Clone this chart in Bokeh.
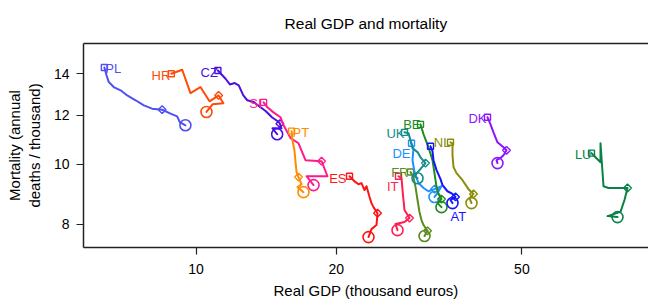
from bokeh.plotting import figure
from bokeh.models import FixedTicker, PrintfTickFormatter, LogAxis, Label
from bokeh.embed import file_html
from bokeh.resources import INLINE
import math

# ---------------- data ----------------
countries = ["PL", "HR", "CZ", "SI", "PT", "ES", "IT", "FR", "DE", "UK", "BE", "AT", "NL", "DK", "LU"]

pl_gdp = [6.36, 6.43, 6.50, 6.66, 6.89, 7.12, 7.42, 7.73, 8.05, 8.46, 8.82, 9.11, 9.23, 9.49]
pl_mort = [14.34, 13.92, 13.58, 13.33, 13.17, 12.92, 12.69, 12.45, 12.30, 12.25, 12.07, 11.95, 11.70, 11.56]

hr_gdp = [8.85, 9.34, 9.73, 10.22, 10.69, 11.18, 11.45, 10.85, 10.53]
hr_mort = [14.01, 14.22, 13.03, 13.33, 12.64, 12.92, 12.55, 12.50, 12.15]

cz_gdp = [11.14, 11.57, 11.82, 12.11, 12.35, 12.63, 12.88, 13.30, 13.64, 14.10, 14.57, 15.05, 15.13, 15.25, 14.59, 14.93]
cz_mort = [14.18, 13.75, 13.46, 13.53, 13.41, 12.92, 12.69, 12.61, 12.42, 12.19, 11.90, 11.70, 11.63, 11.43, 11.43, 11.18]

si_gdp = [13.96, 14.23, 14.66, 15.18, 15.41, 15.95, 16.59, 17.17, 18.59, 19.14, 17.26, 17.87]
si_mort = [12.59, 12.36, 12.13, 11.91, 11.56, 11.02, 10.81, 10.15, 10.11, 9.56, 9.56, 9.25]

pt_gdp = [16.03, 16.10, 16.26, 16.35, 16.43, 16.59, 16.84, 16.51, 17.00]
pt_mort = [11.31, 10.93, 10.53, 10.07, 9.71, 9.53, 9.28, 9.18, 9.01]

es_gdp = [21.34, 21.98, 22.31, 22.64, 22.98, 23.21, 23.56, 23.79, 24.02, 24.51, 24.38, 23.79, 23.44]
es_mort = [9.56, 9.35, 9.28, 9.32, 9.08, 9.21, 8.85, 8.65, 8.52, 8.33, 7.97, 7.85, 7.62]

it_gdp = [27.18, 27.59, 27.73, 27.86, 28.00, 28.28, 28.70, 28.00, 26.78, 27.05]
it_mort = [9.56, 9.49, 9.08, 8.75, 8.43, 8.33, 8.18, 8.06, 8.00, 7.82]

fr_gdp = [28.84, 29.27, 29.57, 29.86, 30.15, 30.45, 30.76, 31.37, 30.91]
fr_mort = [9.71, 9.53, 9.18, 8.75, 8.37, 8.12, 7.97, 7.80, 7.65]

de_gdp = [28.99, 29.27, 29.13, 29.42, 30.00, 30.76, 31.52, 32.47, 33.61, 32.96, 32.47]
de_mort = [10.81, 10.61, 10.15, 9.71, 9.32, 9.15, 9.04, 9.11, 9.21, 8.98, 8.85]

uk_gdp = [28.00, 28.56, 28.84, 29.13, 29.86, 30.30, 31.06, 30.15, 29.42, 29.86]
uk_mort = [11.26, 11.22, 10.93, 10.61, 10.46, 10.26, 10.04, 9.78, 9.56, 9.49]

be_gdp = [30.30, 30.76, 31.06, 31.52, 32.15, 32.47, 32.80, 33.12, 33.61, 32.96, 33.61]
be_mort = [11.60, 11.18, 10.97, 10.65, 10.15, 9.67, 9.18, 8.95, 8.78, 8.65, 8.52]

at_gdp = [31.84, 32.15, 32.31, 32.80, 33.45, 33.78, 34.62, 35.49, 36.02, 35.14, 35.49]
at_mort = [10.69, 10.50, 10.15, 9.78, 9.46, 9.25, 9.04, 8.95, 8.85, 8.75, 8.65]

nl_gdp = [35.14, 35.49, 35.49, 35.67, 36.20, 37.29, 38.41, 39.37, 38.60, 38.98]
nl_mort = [10.85, 10.81, 10.34, 9.89, 9.67, 9.42, 9.11, 8.95, 8.81, 8.65]

dk_gdp = [42.19, 42.82, 43.45, 44.32, 45.66, 46.34, 45.66, 44.98, 44.10, 44.32]
dk_mort = [11.91, 11.60, 11.26, 10.85, 10.65, 10.53, 10.34, 10.23, 10.15, 10.04]

lu_gdp = [70.51, 71.91, 73.71, 73.71, 74.81, 76.68, 84.23, 82.98, 81.36, 76.31, 80.17]
lu_mort = [10.42, 10.26, 10.07, 10.81, 9.21, 9.15, 9.15, 8.75, 8.37, 8.24, 8.21]

# index of the highlighted (diamond) observation in each series
mid_index = {"PL": 9, "HR": 5, "CZ": 12, "SI": 8, "PT": 5, "ES": 9, "IT": 6, "FR": 7,
             "DE": 7, "UK": 6, "BE": 8, "AT": 8, "NL": 7, "DK": 5, "LU": 6}

x_ticks = [10, 20, 50]
y_ticks = [8, 10, 12, 14]
title_text = "Real GDP and mortality"
x_label = "Real GDP (thousand euros)"
y_label = "Mortality (annual\ndeaths / thousand)"

series = {
    "PL": (pl_gdp, pl_mort), "HR": (hr_gdp, hr_mort), "CZ": (cz_gdp, cz_mort),
    "SI": (si_gdp, si_mort), "PT": (pt_gdp, pt_mort), "ES": (es_gdp, es_mort),
    "IT": (it_gdp, it_mort), "FR": (fr_gdp, fr_mort), "DE": (de_gdp, de_mort),
    "UK": (uk_gdp, uk_mort), "BE": (be_gdp, be_mort), "AT": (at_gdp, at_mort),
    "NL": (nl_gdp, nl_mort), "DK": (dk_gdp, dk_mort), "LU": (lu_gdp, lu_mort),
}

# ---------------- styles ----------------
colors = {"PL": "#4F4FF5", "HR": "#FF4A0A", "CZ": "#4B10E0", "SI": "#FF1A8A", "PT": "#FF8C00",
          "ES": "#FF1414", "IT": "#FF1E50", "FR": "#5A8C1E", "DE": "#1E90FF", "UK": "#148C8C",
          "BE": "#1E8C1E", "AT": "#1414FF", "NL": "#8C8C0A", "DK": "#8C14FF", "LU": "#0A8246"}

# (anchor index, text align, x offset px, y offset px downward)
label_style = {"PL": (0, "left", 1, 1), "HR": (0, "right", -1, 2), "CZ": (0, "right", 0, 2),
               "SI": (0, "right", -2, 1), "PT": (0, "left", 1, 1), "ES": (0, "right", -3, 2),
               "IT": (0, "right", 0, 10), "FR": (0, "right", -2, 0), "DE": (0, "right", -1, 10),
               "UK": (0, "right", 0, 1), "BE": (0, "right", 0, 0), "NL": (0, "right", 0, 0),
               "DK": (0, "right", -1, 1), "LU": (0, "right", 0, 1), "AT": (-1, "left", -2, 13)}

FONT = "Liberation Sans"
X_LO, X_HI = 5.737, 93.43
Y_LO, Y_HI = 7.33, 15.68

p = figure(width=648, height=303, x_axis_type="log", y_axis_type="log",
           x_range=(X_LO, X_HI), y_range=(Y_LO, Y_HI),
           output_backend="svg", toolbar_location=None,
           min_border_left=83, min_border_right=0, min_border_top=43, min_border_bottom=56,
           title=title_text)
p.background_fill_color = "white"
p.border_fill_color = "white"
p.outline_line_color = None
p.grid.visible = False

p.title.align = "center"
p.title.text_font = FONT
p.title.text_font_size = "15.5px"
p.title.text_font_style = "normal"
p.title.text_color = "black"
p.title.standoff = 23

for ax in (p.xaxis[0], p.yaxis[0]):
    ax.axis_line_color = "#222222"
    ax.axis_line_width = 1.5
    ax.major_tick_line_color = "#222222"
    ax.major_tick_line_width = 1.2
    ax.major_tick_out = 7
    ax.major_tick_in = 0
    ax.minor_tick_line_color = None
    ax.major_label_text_font = FONT
    ax.major_label_text_font_size = "14px"
    ax.major_label_text_color = "black"
    ax.axis_label_text_font = FONT
    ax.axis_label_text_font_size = "15px"
    ax.axis_label_text_font_style = "normal"
    ax.axis_label_text_color = "black"
    ax.formatter = PrintfTickFormatter(format="%d")

p.xaxis.ticker = FixedTicker(ticks=x_ticks, minor_ticks=[])
p.yaxis.ticker = FixedTicker(ticks=y_ticks, minor_ticks=[])
p.xaxis.major_label_standoff = 9
p.xaxis.axis_label = x_label
p.xaxis.axis_label_standoff = 5
p.yaxis.major_label_standoff = 7
p.yaxis.axis_label = y_label
p.yaxis.axis_label_standoff = 8

top = LogAxis(ticker=FixedTicker(ticks=[], minor_ticks=[]))
top.axis_line_color = "#222222"
top.axis_line_width = 1.5
top.major_tick_line_color = None
top.minor_tick_line_color = None
top.major_label_text_font_size = "0px"
p.add_layout(top, "above")

for c in countries:
    gx, my = series[c]
    col = colors[c]
    p.line(gx, my, line_color=col, line_width=2, line_join="round", line_cap="round")
    p.scatter([gx[0]], [my[0]], marker="square", size=6, fill_color=None,
              line_color=col, line_width=1.4)
    k = mid_index[c]
    p.scatter([gx[k]], [my[k]], marker="square", angle=math.pi / 4, size=5.5,
              fill_color=None, line_color=col, line_width=1.4)
    p.scatter([gx[-1]], [my[-1]], marker="circle", size=11, fill_color=None,
              line_color=col, line_width=1.6)
    ai, align, dx, dy = label_style[c]
    p.add_layout(Label(x=gx[ai], y=my[ai], text=c, x_offset=dx, y_offset=-dy,
                       text_align=align, text_baseline="alphabetic",
                       text_font=FONT, text_font_size="13px", text_color=col))

open("out.html", "w").write(file_html(p, INLINE))
